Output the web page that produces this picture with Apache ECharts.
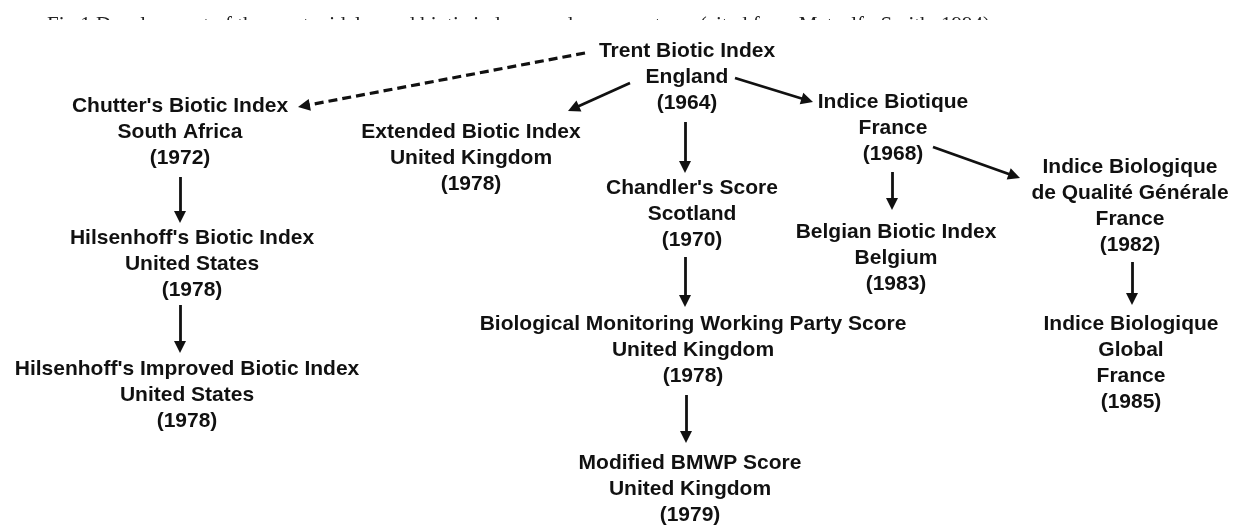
<!DOCTYPE html>
<html>
<head>
<meta charset="utf-8">
<script src="https://cdn.jsdelivr.net/npm/echarts@6/dist/echarts.min.js"></script>
<style>html,body{margin:0;padding:0;background:#fff;}#main{width:1239px;height:526px;}</style>
</head>
<body>
<div id="main"></div>
<script>
// ---- data ----
const caption = 'Fig.1 Development of the most widely used biotic indexes and score systems (cited from Metcalfe-Smith, 1994)';
const nodeLabels = [
  'Trent Biotic Index\nEngland\n(1964)',
  "Chutter's Biotic Index\nSouth Africa\n(1972)",
  'Extended Biotic Index\nUnited Kingdom\n(1978)',
  'Indice Biotique\nFrance\n(1968)',
  "Chandler's Score\nScotland\n(1970)",
  'Belgian Biotic Index\nBelgium\n(1983)',
  'Indice Biologique\nde Qualité Générale\nFrance\n(1982)',
  'Indice Biologique\nGlobal\nFrance\n(1985)',
  "Hilsenhoff's Biotic Index\nUnited States\n(1978)",
  "Hilsenhoff's Improved Biotic Index\nUnited States\n(1978)",
  'Biological Monitoring Working Party Score\nUnited Kingdom\n(1978)',
  'Modified BMWP Score\nUnited Kingdom\n(1979)'
];
const nodeX = [687, 180, 471, 893, 692, 896, 1130, 1131, 192, 187, 693, 690];
const nodeY = [77, 132, 158, 128, 214, 258, 206, 363, 264, 395, 350, 489];
// arrows: start point, arrow tip, dashed flag
const linkFrom = [[585,53],[630,83],[685,122],[735,78],[892,172],[933,147],[1132,262],[180,177],[180,305],[685,257],[686,395]];
const linkTo   = [[298,107],[568,111],[685,173],[813,102],[892,210],[1020,178],[1132,305],[180,223],[180,353],[685,307],[686,443]];
const linkDashed = [true,false,false,false,false,false,false,false,false,false,false];

// ---- build ----
const W = 1239, H = 526;
const ARROW_LEN = 12;
const lineData = linkFrom.map((f, i) => {
  const t = linkTo[i];
  const dx = t[0] - f[0], dy = t[1] - f[1];
  const L = Math.sqrt(dx*dx + dy*dy);
  // symbol is centred on the end point, so pull back half its length to put the tip on linkTo
  const end = [t[0] - dx / L * ARROW_LEN / 2, t[1] - dy / L * ARROW_LEN / 2];
  return {
    coords: [f, end],
    lineStyle: linkDashed[i] ? { type: [9, 5], width: 3.2 } : { type: 'solid', width: 2.8 }
  };
});
const nodeData = nodeLabels.map((n, i) => ({ name: n, value: [nodeX[i], nodeY[i]] }));

const chart = echarts.init(document.getElementById('main'), null, { renderer: 'canvas' });
chart.setOption({
  backgroundColor: '#ffffff',
  animation: false,
  grid: { left: 0, right: 0, top: 0, bottom: 0 },
  xAxis: { type: 'value', min: 0, max: W, show: false },
  yAxis: { type: 'value', min: 0, max: H, inverse: true, show: false },
  graphic: [
    {
      type: 'text', left: 47, top: 15, z: 1,
      style: { text: caption, font: '21px "Liberation Serif"', fill: '#222' }
    },
    {
      type: 'rect', left: 0, top: 20, z: 2,
      shape: { width: 1010, height: 16 },
      style: { fill: '#ffffff' }
    }
  ],
  series: [
    {
      type: 'lines',
      coordinateSystem: 'cartesian2d',
      polyline: false,
      symbol: ['none', 'triangle'],
      symbolSize: [13, ARROW_LEN],
      lineStyle: { color: '#111111', opacity: 1 },
      itemStyle: { color: '#111111' },
      data: lineData,
      z: 3
    },
    {
      type: 'scatter',
      symbolSize: 1,
      itemStyle: { color: '#ffffff', opacity: 1 },
      label: {
        show: true,
        position: 'inside',
        formatter: p => p.name,
        color: '#111111',
        opacity: 1,
        textBorderWidth: 0,
        fontFamily: '"Liberation Sans", Arial, sans-serif',
        fontWeight: 'bold',
        fontSize: 21,
        lineHeight: 26,
        align: 'center',
        verticalAlign: 'middle'
      },
      emphasis: { disabled: true },
      data: nodeData,
      z: 4
    }
  ]
});
</script>
</body>
</html>
